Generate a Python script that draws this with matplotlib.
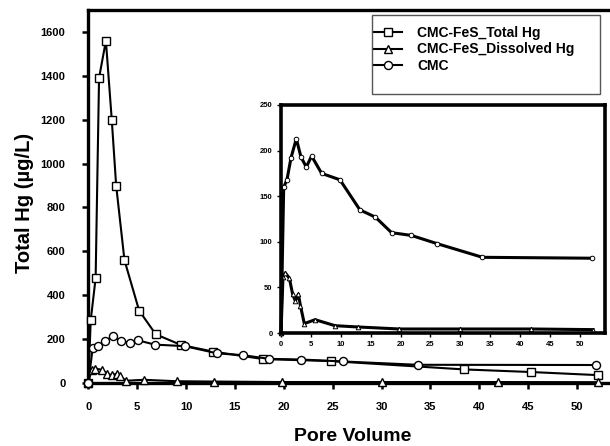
import matplotlib
matplotlib.use("Agg")
import matplotlib.pyplot as plt
from matplotlib.patches import Rectangle

plt.rcParams['font.family'] = ['Liberation Sans', 'DejaVu Sans']
plt.rcParams['font.weight'] = 'bold'

# CMC-FeS, total Hg in effluent
pv_total = [0, 0.25, 0.75, 1.1, 1.8, 2.4, 2.85, 3.7, 5.2, 6.9, 9.5, 12.8, 17.9, 24.8, 38.4, 45.3, 52.1]
hg_total = [0, 287, 478, 1390, 1560, 1200, 900, 560, 330, 222, 173, 143, 109, 100, 62, 50, 36]

# CMC-FeS, dissolved Hg
pv_diss = [0, 0.33, 0.72, 1.4, 1.95, 2.4, 2.9, 3.25, 3.9, 5.7, 9.05, 12.9, 19.8, 30.0, 41.9, 52.2]
hg_diss = [0, 61.5, 66, 60, 42.5, 35, 42.5, 30, 10.3, 14.6, 8, 6.6, 4.4, 4.4, 4.4, 3.7]

# CMC only
pv_cmc = [0, 0.45, 1.0, 1.67, 2.56, 3.34, 4.23, 5.12, 6.8, 9.86, 13.2, 15.8, 18.5, 21.8, 26.1, 33.7, 51.95]
hg_cmc = [0, 160, 168, 192, 213, 193, 182, 194, 175, 168, 135, 127, 110, 107, 98, 83, 82]

x_ticks = [0, 5, 10, 15, 20, 25, 30, 35, 40, 45, 50]
main_y_ticks = [0, 200, 400, 600, 800, 1000, 1200, 1400, 1600]
inset_y_ticks = [0, 50, 100, 150, 200, 250]

W, H = 610, 446
fig = plt.figure(figsize=(W / 100, H / 100), dpi=100)

ax = fig.add_axes([88.3 / W, (H - 383) / H, 0.862, (383 - 10) / H])
mk = dict(color='black', markerfacecolor='white', markeredgecolor='black',
          markeredgewidth=1.0, linewidth=1.5, markersize=5.8, clip_on=False)
ax.plot(pv_total, hg_total, marker='s', label='CMC-FeS_Total Hg', zorder=3, **mk)
ax.plot(pv_diss, hg_diss, marker='^', label='CMC-FeS_Dissolved Hg', zorder=4, **mk)
ax.plot(pv_cmc, hg_cmc, marker='o', label='CMC', zorder=5, **mk)

ax.set_xlim(0, 53.8)
ax.set_ylim(0, 1700)
ax.set_xticks(x_ticks)
ax.set_yticks(main_y_ticks)
ax.spines['right'].set_visible(False)
for s in ['left', 'bottom', 'top']:
    ax.spines[s].set_linewidth(2.4)
ax.tick_params(direction='out', length=4.5, width=1.8, labelsize=8)
ax.tick_params(axis='x', pad=9)
ax.tick_params(axis='y', pad=12)
for lab in ax.get_xticklabels() + ax.get_yticklabels():
    lab.set_fontweight('bold')

fig.text(353 / W, 1 - 445 / H, 'Pore Volume', fontsize=14, fontweight='bold',
         ha='center', va='bottom')
fig.text(24 / W, 1 - 203 / H, 'Total Hg (\u00b5g/L)', fontsize=14.5, fontweight='bold',
         ha='center', va='center', rotation=90)

# legend entries without their own frame; the box is drawn separately
leg = ax.legend(loc='upper left', bbox_to_anchor=(373 / W, 1 - 26 / H),
                bbox_transform=fig.transFigure, frameon=False, fontsize=10,
                handlelength=2.1, borderpad=0, labelspacing=0.18,
                handletextpad=1.1, borderaxespad=0)
for t in leg.get_texts():
    t.set_fontweight('bold')
fig.patches.append(Rectangle((372 / W, 1 - 94 / H), 228 / W, 79 / H,
                             transform=fig.transFigure, fill=False,
                             edgecolor='#555555', linewidth=1.0))

# inset zoom on the low-concentration curves
ins = fig.add_axes([281 / W, (H - 333) / H, (605 - 281) / W, (333 - 105) / H])
mi = dict(color='black', markerfacecolor='white', markeredgecolor='black',
          markeredgewidth=0.7, linewidth=2.2, markersize=3.3, clip_on=False)
ins.plot(pv_diss, hg_diss, marker='^', **mi)
ins.plot(pv_cmc, hg_cmc, marker='o', **mi)
ins.set_xlim(0, 54.2)
ins.set_ylim(0, 250)
ins.set_xticks(x_ticks)
ins.set_yticks(inset_y_ticks)
for s in ins.spines.values():
    s.set_linewidth(2.6)
ins.tick_params(direction='out', length=3, width=1.0, labelsize=5.5, pad=3)
for lab in ins.get_xticklabels() + ins.get_yticklabels():
    lab.set_fontweight('bold')

fig.savefig('out.png', dpi=100)
